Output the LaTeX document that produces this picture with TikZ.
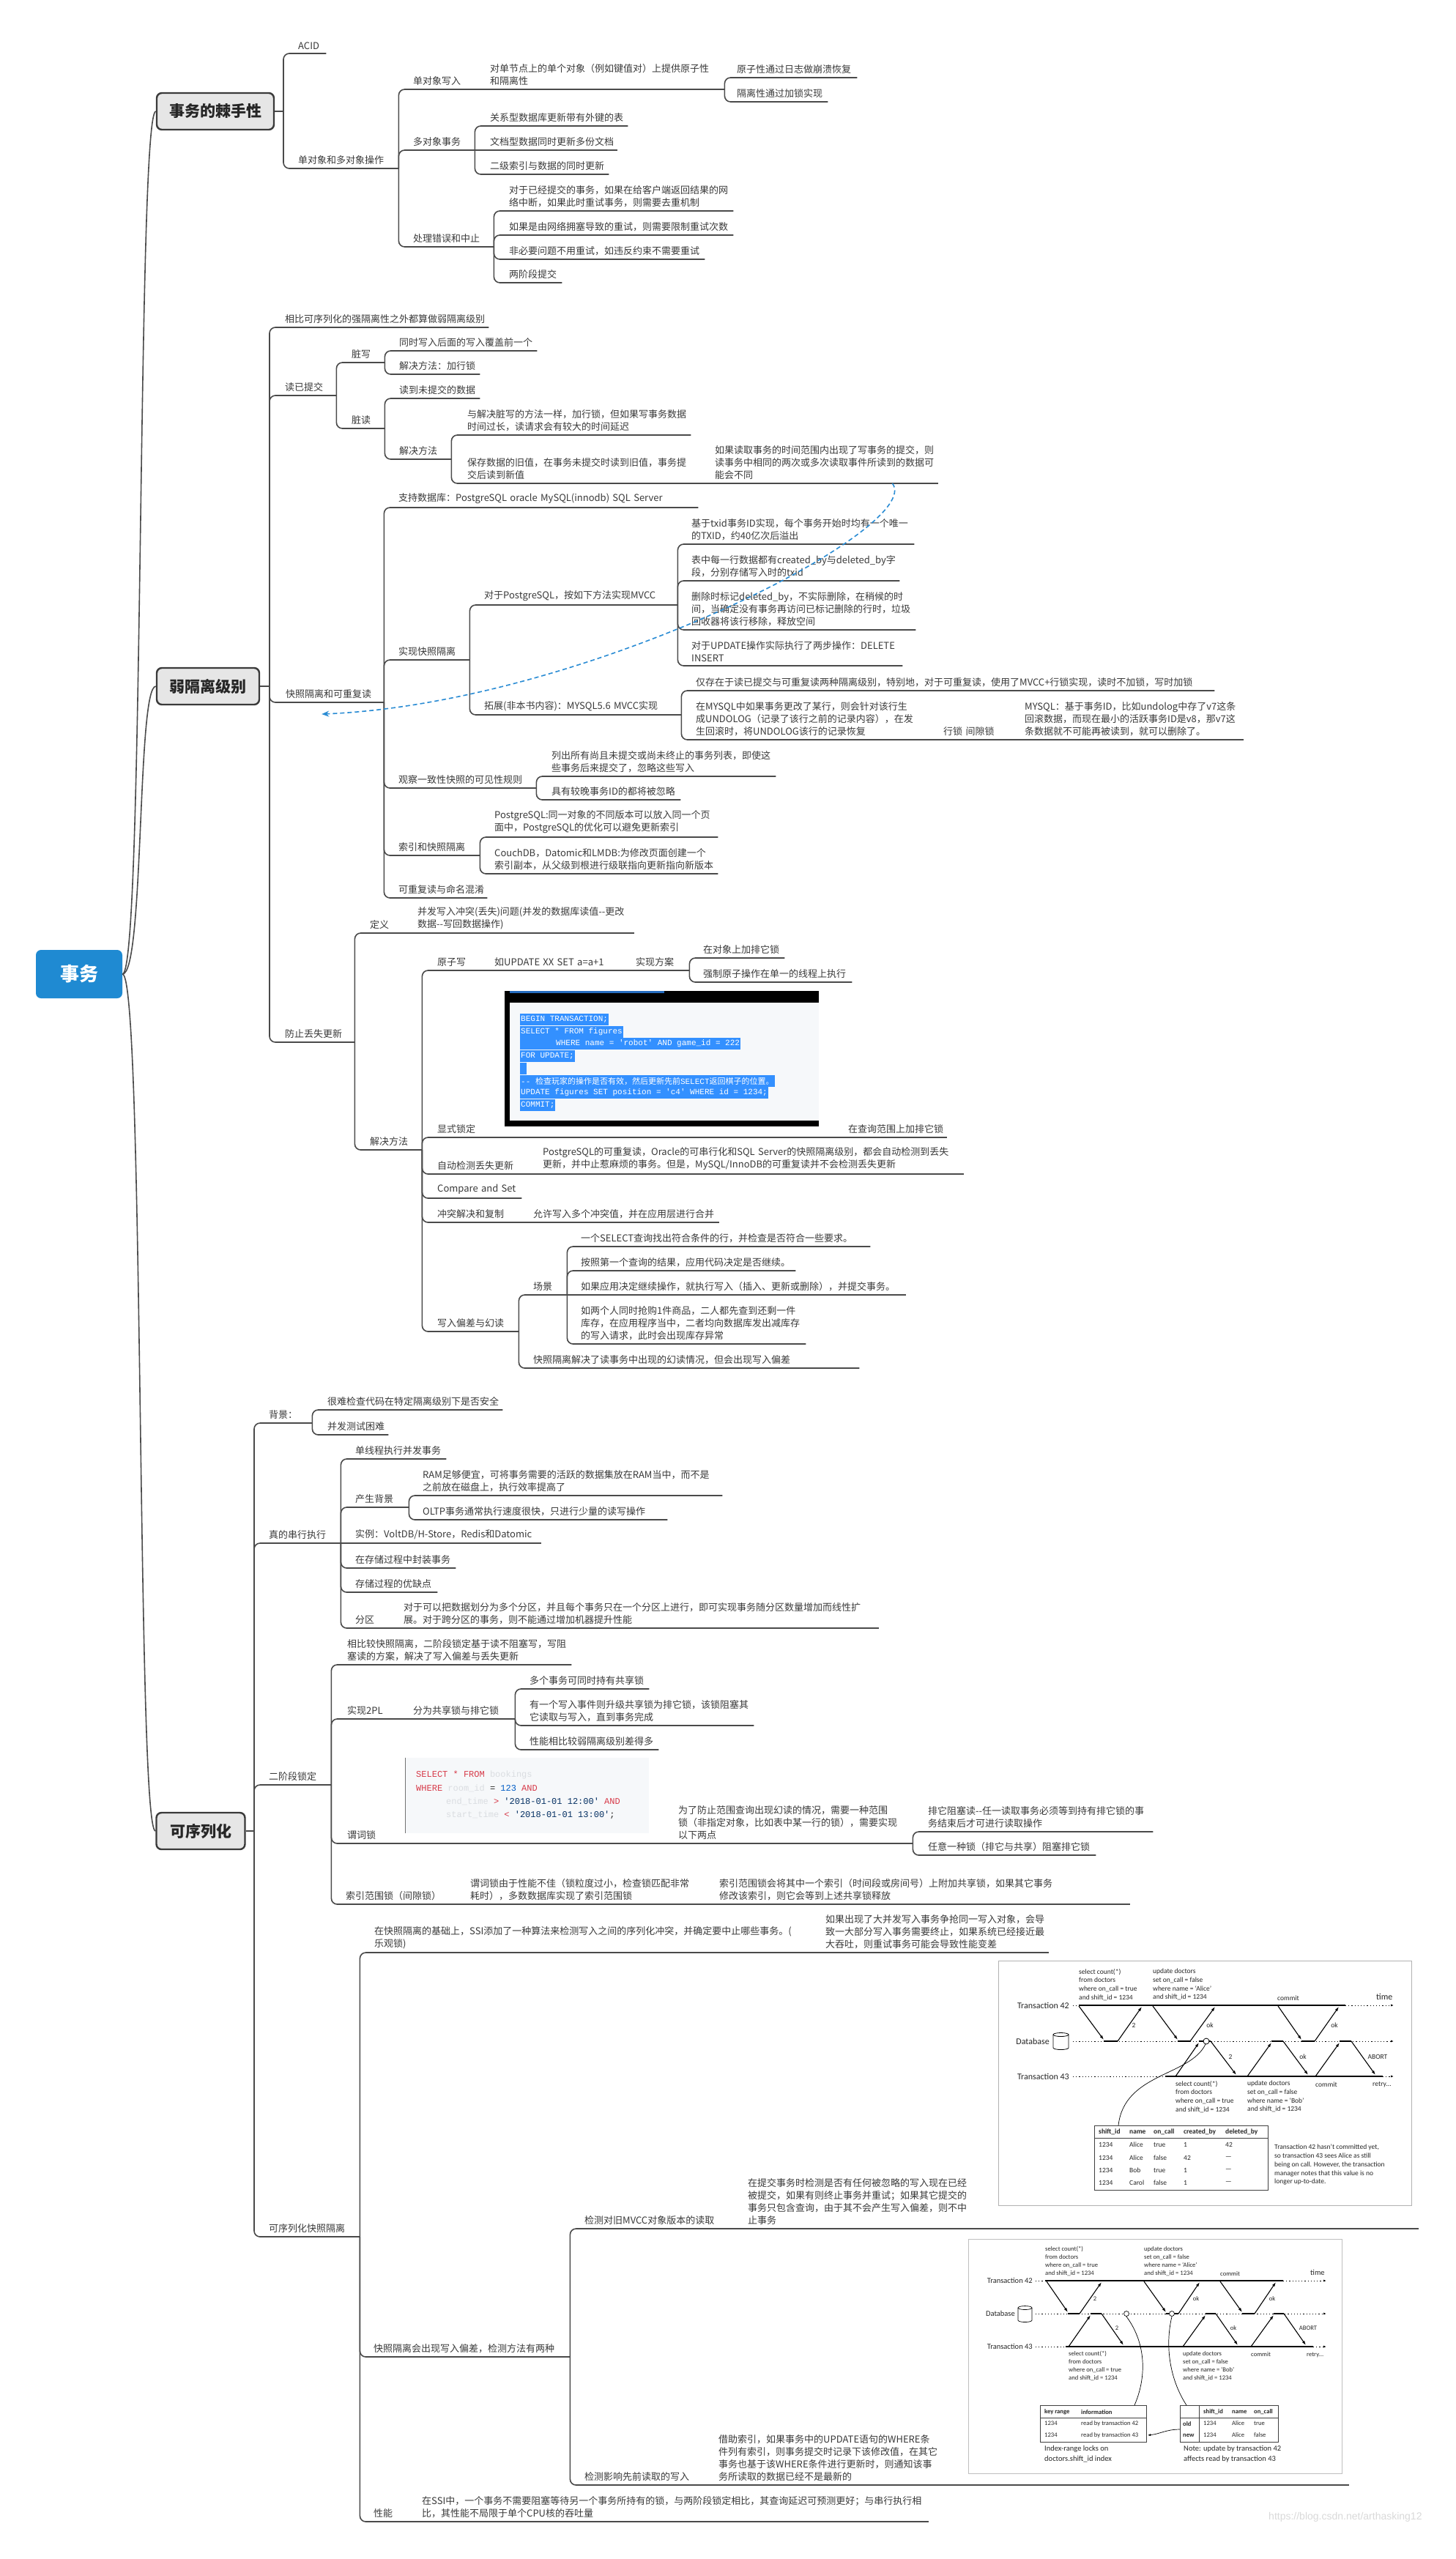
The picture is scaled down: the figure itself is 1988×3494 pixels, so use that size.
\documentclass[tikz,border=0pt]{standalone}
\usepackage{fontspec}
\setmainfont{Noto Sans CJK SC}
\setmonofont{Liberation Mono}
\newfontfamily\cjk{Noto Sans CJK SC}
\newfontfamily\figfont{Carlito}
\newfontfamily\wmfont{Liberation Sans}
\usetikzlibrary{arrows.meta, calc}
\definecolor{linegray}{HTML}{4A4A4A}
\definecolor{txtgray}{HTML}{3A3A3A}
\definecolor{boxfill}{HTML}{E6E6E6}
\definecolor{boxedge}{HTML}{3A3A3A}
\definecolor{rootblue}{HTML}{1F8AD2}
\definecolor{relblue}{HTML}{2A8CD4}
\definecolor{selblue}{HTML}{3390FF}
\definecolor{codebg}{HTML}{F6F8FA}
\definecolor{sqlred}{HTML}{D73A49}
\definecolor{sqlblue}{HTML}{005CC5}
\definecolor{sqlstr}{HTML}{032F62}
\definecolor{sqlid}{HTML}{DADDE1}
\tikzset{
    topic/.style={anchor=south west, inner xsep=0pt, inner ysep=5pt, align=left, text=txtgray, font=\fontsize{13}{17}\selectfont},
    branch/.style={draw=linegray, line width=1.6pt, rounded corners=8pt},
    maintopic/.style={rectangle, rounded corners=7pt, draw=boxedge, line width=2.4pt, fill=boxfill, minimum height=50pt, font=\bfseries\fontsize{21}{25}\selectfont, text=black!85},
    roottopic/.style={rectangle, rounded corners=7pt, fill=rootblue, minimum width=118pt, minimum height=66pt, font=\bfseries\fontsize{26}{30}\selectfont, text=white},
    rootline/.style={draw=linegray, line width=1.6pt},
    relation/.style={draw=relblue, line width=1.6pt, dash pattern=on 6pt off 4pt, -{Stealth[length=10pt, width=8pt]}},
    codeline/.style={anchor=west, fill=selblue, text=white, inner xsep=1pt, inner ysep=0pt, minimum height=16.7pt, font=\ttfamily\fontsize{11}{13}\selectfont},
    sqlline/.style={anchor=west, inner sep=0pt, text=black!85, font=\ttfamily\fontsize{12}{14}\selectfont},
    figtext/.style={inner sep=0pt, align=left, text=black!85, font=\figfont\fontsize{9.5}{11.7}\selectfont},
    figsmall/.style={inner sep=0pt, align=left, text=black!85, font=\figfont\fontsize{8.6}{11}\selectfont},
    figlabel/.style={inner sep=0pt, text=black!85, font=\figfont\fontsize{12}{14}\selectfont},
    figarrow/.style={line width=1.1pt, -{Latex[length=6pt, width=4pt]}},
    figflat/.style={line width=1.8pt},
    figdot/.style={line width=0.9pt, dash pattern=on 1.2pt off 3pt},
    figtip/.style={-{Latex[length=4pt, width=3pt]}}
}
\begin{document}
\begin{tikzpicture}[x=1pt, y=-1pt]
\fill[white] (0,0) rectangle (1988,3494);
\useasboundingbox (0,0) rectangle (1988,3494);

% root and main topics
\node[roottopic] (root) at (108,1330) {事务};
\node[maintopic, minimum width=160pt] (m1) at (294,152) {事务的棘手性};
\node[maintopic, minimum width=140pt] (m2) at (284,937) {弱隔离级别};
\node[maintopic, minimum width=121pt] (m3) at (274,2500) {可序列化};
\foreach \m in {m1,m2,m3}
    \draw[rootline] (root.east) .. controls +(30,0) and +(-26,0) .. (\m.west);

% ---------------- 事务的棘手性
\coordinate (m1t) at (387,152);
\node[topic, text width=38pt] (acid) at (407,73) {ACID};
\node[topic, text width=137pt] (dxdo) at (407,230) {单对象和多对象操作};
\node[topic, text width=84pt] (dx) at (564,122) {单对象写入};
\node[topic, text width=320pt] (dxtext) at (669,122) {对单节点上的单个对象（例如键值对）上提供原子性\\和隔离性};
\node[topic, text width=164pt] (yz) at (1006,106) {原子性通过日志做崩溃恢复};
\node[topic, text width=124pt] (gl) at (1006,139) {隔离性通过加锁实现};
\node[topic, text width=84pt] (dduix) at (564,205) {多对象事务};
\node[topic, text width=188pt] (gx) at (669,172) {关系型数据库更新带有外键的表};
\node[topic, text width=174pt] (wd) at (669,205) {文档型数据同时更新多份文档};
\node[topic, text width=162pt] (ej) at (669,238) {二级索引与数据的同时更新};
\node[topic, text width=110pt] (cl) at (564,337) {处理错误和中止};
\node[topic, text width=306pt] (c1) at (695,288) {对于已经提交的事务，如果在给客户端返回结果的网\\络中断，如果此时重试事务，则需要去重机制};
\node[topic, text width=306pt] (c2) at (695,321) {如果是由网络拥塞导致的重试，则需要限制重试次数};
\node[topic, text width=267pt] (c3) at (695,354) {非必要问题不用重试，如违反约束不需要重试};
\node[topic, text width=72pt] (c4) at (695,386) {两阶段提交};

\draw[branch] (m1.east) -- (m1t);
\foreach \c in {acid,dxdo} \draw[branch] (m1t) |- (\c.south east);
\foreach \c in {dx,dduix,cl} \draw[branch] (dxdo.south east) |- (\c.south east);
\draw[branch] (dx.south east) -- (dxtext.south east);
\foreach \c in {yz,gl} \draw[branch] (dxtext.south east) |- (\c.south east);
\foreach \c in {gx,ej} \draw[branch] (dduix.south east) |- (\c.south east);
\draw[branch] (dduix.south east) -- (wd.south east);
\foreach \c in {c1,c2,c3,c4} \draw[branch] (cl.south east) |- (\c.south east);

% ---------------- 弱隔离级别
\coordinate (m2t) at (368,937);
\node[topic, text width=278pt] (rb) at (389,447) {相比可序列化的强隔离性之外都算做弱隔离级别};
\node[topic, text width=70pt] (rc) at (389,540) {读已提交};
\node[topic, text width=45pt] (zx) at (480,495) {脏写};
\node[topic, text width=188pt] (zx1) at (545,479) {同时写入后面的写入覆盖前一个};
\node[topic, text width=110pt] (zx2) at (545,511) {解决方法：加行锁};
\node[topic, text width=45pt] (zd) at (480,585) {脏读};
\node[topic, text width=110pt] (zd1) at (545,544) {读到未提交的数据};
\node[topic, text width=71pt] (zd2) at (545,627) {解决方法};
\node[topic, text width=305pt] (zd3) at (638,594) {与解决脏写的方法一样，加行锁，但如果写事务数据\\时间过长，读请求会有较大的时间延迟};
\node[topic, text width=305pt] (zd4) at (638,660) {保存数据的旧值，在事务未提交时读到旧值，事务提\\交后读到新值};
\node[topic, text width=305pt] (rcdiff) at (976,660) {如果读取事务的时间范围内出现了写事务的提交，则\\读事务中相同的两次或多次读取事件所读到的数据可\\能会不同};

\node[topic, text width=134pt] (snap) at (390,959) {快照隔离和可重复读};
\node[topic, text width=409pt] (sdb) at (544,693) {支持数据库：PostgreSQL oracle MySQL(innodb) SQL~Server};
\node[topic, text width=97pt] (ssi) at (544,901) {实现快照隔离};
\node[topic, text width=264pt] (pg) at (661,826) {对于PostgreSQL，按如下方法实现MVCC};
\node[topic, text width=304pt] (pg1) at (944,743) {基于txid事务ID实现，每个事务开始时均有一个唯一\\的TXID，约40亿次后溢出};
\node[topic, text width=284pt] (pg2) at (944,793) {表中每一行数据都有created\_by与deleted\_by字\\段，分别存储写入时的txid};
\node[topic, text width=306pt] (pg3) at (944,860) {删除时标记deleted\_by，不实际删除，在稍候的时\\间，当确定没有事务再访问已标记删除的行时，垃圾\\回收器将该行移除，释放空间};
\node[topic, text width=288pt] (pg4) at (944,909) {对于UPDATE操作实际执行了两步操作：DELETE\\INSERT};
\node[topic, text width=269pt] (my) at (661,976) {拓展(非本书内容)：MYSQL5.6~MVCC实现};
\node[topic, text width=708pt] (my1) at (950,943) {仅存在于读已提交与可重复读两种隔离级别，特别地，对于可重复读，使用了MVCC+行锁实现，读时不加锁，写时加锁};
\node[topic, text width=308pt] (my2) at (950,1010) {在MYSQL中如果事务更改了某行，则会针对该行生\\成UNDOLOG（记录了该行之前的记录内容），在发\\生回滚时，将UNDOLOG该行的记录恢复};
\node[topic, text width=80pt] (my3) at (1288,1010) {行锁~间隙锁};
\node[topic, text width=299pt] (my4) at (1399,1010) {MYSQL：基于事务ID，比如undolog中存了v7这条\\回滚数据，而现在最小的活跃事务ID是v8，那v7这\\条数据就不可能再被读到，就可以删除了。};
\node[topic, text width=188pt] (gc) at (544,1076) {观察一致性快照的可见性规则};
\node[topic, text width=306pt] (gc1) at (753,1060) {列出所有尚且未提交或尚未终止的事务列表，即使这\\些事务后来提交了，忽略这些写入};
\node[topic, text width=176pt] (gc2) at (753,1092) {具有较晚事务ID的都将被忽略};
\node[topic, text width=111pt] (sy) at (544,1168) {索引和快照隔离};
\node[topic, text width=305pt] (sy1) at (675,1143) {PostgreSQL:同一对象的不同版本可以放入同一个页\\面中，PostgreSQL的优化可以避免更新索引};
\node[topic, text width=305pt] (sy2) at (675,1193) {CouchDB，Datomic和LMDB:为修改页面创建一个\\索引副本，从父级到根进行级联指向更新指向新版本};
\node[topic, text width=121pt] (mm) at (544,1226) {可重复读与命名混淆};

\node[topic, text width=95pt] (lu) at (389,1423) {防止丢失更新};
\node[topic, text width=57pt] (lu1) at (505,1274) {定义};
\node[topic, text width=296pt] (lu1a) at (570,1274) {并发写入冲突(丢失)问题(并发的数据库读值-{}-更改\\数据-{}-写回数据操作)};
\node[topic, text width=71pt] (lu2) at (505,1570) {解决方法};
\node[topic, text width=61pt] (aw) at (597,1325) {原子写};
\node[topic, text width=174pt] (aw1) at (675,1325) {如UPDATE XX SET a=a+1};
\node[topic, text width=73pt] (aw2) at (868,1325) {实现方案};
\node[topic, text width=111pt] (aw3) at (960,1308) {在对象上加排它锁};
\node[topic, text width=203pt] (aw4) at (960,1341) {强制原子操作在单一的线程上执行};
\node[topic, text width=61pt] (xs) at (597,1553) {显式锁定};
\coordinate (codeend) at (1128,1553);
\node[topic, text width=135pt] (xs1) at (1158,1553) {在查询范围上加排它锁};
\node[topic, text width=112pt] (ad) at (597,1603) {自动检测丢失更新};
\node[topic, text width=575pt] (ad1) at (741,1603) {PostgreSQL的可重复读，Oracle的可串行化和SQL~Server的快照隔离级别，都会自动检测到丢失\\更新，并中止惹麻烦的事务。但是，MySQL/InnoDB的可重复读并不会检测丢失更新};
\node[topic, text width=115pt] (cas) at (597,1636) {Compare and Set};
\node[topic, text width=99pt] (ct) at (597,1669) {冲突解决和复制};
\node[topic, text width=254pt] (ct1) at (728,1669) {允许写入多个冲突值，并在应用层进行合并};
\node[topic, text width=111pt] (ws) at (597,1818) {写入偏差与幻读};
\node[topic, text width=46pt] (cj) at (728,1768) {场景};
\node[topic, text width=395pt] (cj1) at (793,1702) {一个SELECT查询找出符合条件的行，并检查是否符合一些要求。};
\node[topic, text width=293pt] (cj2) at (793,1735) {按照第一个查询的结果，应用代码决定是否继续。};
\node[topic, text width=444pt] (cj3) at (793,1768) {如果应用决定继续操作，就执行写入（插入、更新或删除），并提交事务。};
\node[topic, text width=307pt] (cj4) at (793,1835) {如两个人同时抢购1件商品，二人都先查到还剩一件\\库存，在应用程序当中，二者均向数据库发出减库存\\的写入请求，此时会出现库存异常};
\node[topic, text width=445pt] (ws2) at (728,1868) {快照隔离解决了读事务中出现的幻读情况，但会出现写入偏差};

\draw[branch] (m2.east) -- (m2t);
\foreach \c in {rb,rc,snap,lu} \draw[branch] (m2t) |- (\c.south east);
\foreach \c in {zx,zd} \draw[branch] (rc.south east) |- (\c.south east);
\foreach \c in {zx1,zx2} \draw[branch] (zx.south east) |- (\c.south east);
\foreach \c in {zd1,zd2} \draw[branch] (zd.south east) |- (\c.south east);
\foreach \c in {zd3,zd4} \draw[branch] (zd2.south east) |- (\c.south east);
\draw[branch] (zd4.south east) -- (rcdiff.south east);
\foreach \c in {sdb,ssi,gc,sy,mm} \draw[branch] (snap.south east) |- (\c.south east);
\foreach \c in {pg,my} \draw[branch] (ssi.south east) |- (\c.south east);
\foreach \c in {pg1,pg2,pg3,pg4} \draw[branch] (pg.south east) |- (\c.south east);
\foreach \c in {my1,my2} \draw[branch] (my.south east) |- (\c.south east);
\draw[branch] (my2.south east) -- (my3.south east) -- (my4.south east);
\foreach \c in {gc1,gc2} \draw[branch] (gc.south east) |- (\c.south east);
\foreach \c in {sy1,sy2} \draw[branch] (sy.south east) |- (\c.south east);
\foreach \c in {lu1,lu2} \draw[branch] (lu.south east) |- (\c.south east);
\draw[branch] (lu1.south east) -- (lu1a.south east);
\foreach \c in {aw,xs,ad,cas,ct,ws} \draw[branch] (lu2.south east) |- (\c.south east);
\draw[branch] (aw.south east) -- (aw1.south east) -- (aw2.south east);
\foreach \c in {aw3,aw4} \draw[branch] (aw2.south east) |- (\c.south east);
\draw[branch] (xs.south east) -- (codeend) -- (xs1.south east);
\draw[branch] (ad.south east) -- (ad1.south east);
\draw[branch] (ct.south east) -- (ct1.south east);
\foreach \c in {cj,ws2} \draw[branch] (ws.south east) |- (\c.south east);
\foreach \c in {cj1,cj2,cj4} \draw[branch] (cj.south east) |- (\c.south east);
\draw[branch] (cj.south east) -- (cj3.south east);

% relation line
\draw[relation] ([xshift=-63pt]rcdiff.south east) .. controls (1265,720) and (800,960) .. ([xshift=-18pt, yshift=-16pt]snap.south);

% code screenshot
\fill[black] (689,1353) rectangle (1118,1538);
\fill[codebg] (696,1369) rectangle (1118,1530);
\fill[selblue!75!black] (696,1353) rectangle (907,1356);
\foreach \i/\yy/\t in {1/1392/{BEGIN TRANSACTION;}, 2/1409/{SELECT * FROM figures}, 3/1425/{\hspace*{48pt}WHERE name = 'robot' AND game\_id = 222}, 4/1442/{FOR UPDATE;}, 5/1459/{\phantom{x}}, 6/1476/{-- {\cjk 检查玩家的操作是否有效，然后更新先前}SELECT{\cjk 返回棋子的位置。}}, 7/1492/{UPDATE figures SET position = 'c4' WHERE id = 1234;}, 8/1509/{COMMIT;}}
    \node[codeline] (code\i) at (710,\yy) {\t};

% ---------------- 可序列化
\coordinate (m3t) at (347,2500);
\node[topic, text width=59pt] (bj) at (367,1943) {背景：};
\node[topic, text width=239pt] (bj1) at (447,1925) {很难检查代码在特定隔离级别下是否安全};
\node[topic, text width=83pt] (bj2) at (447,1959) {并发测试困难};
\node[topic, text width=98pt] (cx) at (367,2107) {真的串行执行};
\node[topic, text width=124pt] (cx1) at (485,1992) {单线程执行并发事务};
\node[topic, text width=73pt] (cx2) at (485,2058) {产生背景};
\node[topic, text width=409pt] (cx2a) at (577,2042) {RAM足够便宜，可将事务需要的活跃的数据集放在RAM当中，而不是\\之前放在磁盘上，执行效率提高了};
\node[topic, text width=334pt] (cx2b) at (577,2075) {OLTP事务通常执行速度很快，只进行少量的读写操作};
\node[topic, text width=254pt] (cx3) at (485,2107) {实例：VoltDB/H-Store，Redis和Datomic};
\node[topic, text width=137pt] (cx4) at (485,2141) {在存储过程中封装事务};
\node[topic, text width=112pt] (cx5) at (485,2174) {存储过程的优缺点};
\node[topic, text width=57pt] (cx6) at (485,2223) {分区};
\node[topic, text width=649pt] (cx6a) at (551,2223) {对于可以把数据划分为多个分区，并且每个事务只在一个分区上进行，即可实现事务随分区数量增加而线性扩\\展。对于跨分区的事务，则不能通过增加机器提升性能};
\node[topic, text width=85pt] (ej2) at (367,2437) {二阶段锁定};
\node[topic, text width=306pt] (ej2a) at (474,2273) {相比较快照隔离，二阶段锁定基于读不阻塞写，写阻\\塞读的方案，解决了写入偏差与丢失更新};
\node[topic, text width=70pt] (pl) at (474,2347) {实现2PL};
\node[topic, text width=139pt] (pl1) at (564,2347) {分为共享锁与排它锁};
\node[topic, text width=163pt] (pl1a) at (723,2306) {多个事务可同时持有共享锁};
\node[topic, text width=306pt] (pl1b) at (723,2356) {有一个写入事件则升级共享锁为排它锁，该锁阻塞其\\它读取与写入，直到事务完成};
\node[topic, text width=176pt] (pl1c) at (723,2389) {性能相比较弱隔离级别差得多};
\node[topic, text width=73pt] (wc) at (474,2517) {谓词锁};
\coordinate (sqlend) at (891,2517);
\node[topic, text width=320pt] (wc1) at (926,2517) {为了防止范围查询出现幻读的情况，需要一种范围\\锁（非指定对象，比如表中某一行的锁），需要实现\\以下两点};
\node[topic, text width=307pt] (wc2) at (1267,2501) {排它阻塞读-{}-任一读取事务必须等到持有排它锁的事\\务结束后才可进行读取操作};
\node[topic, text width=229pt] (wc3) at (1267,2533) {任意一种锁（排它与共享）阻塞排它锁};
\node[topic, text width=133pt] (sf) at (472,2600) {索引范围锁（间隙锁）};
\node[topic, text width=321pt] (sf1) at (642,2600) {谓词锁由于性能不佳（锁粒度过小，检查锁匹配非常\\耗时），多数数据库实现了索引范围锁};
\node[topic, text width=561pt] (sf2) at (982,2600) {索引范围锁会将其中一个索引（时间段或房间号）上附加共享锁，如果其它事务\\修改该索引，则它会等到上述共享锁释放};
\node[topic, text width=124pt] (kx) at (367,3054) {可序列化快照隔离};
\node[topic, text width=596pt] (ssi1) at (511,2666) {在快照隔离的基础上，SSI添加了一种算法来检测写入之间的序列化冲突，并确定要中止哪些事务。(\\乐观锁)};
\node[topic, text width=305pt] (ssi2) at (1127,2666) {如果出现了大并发写入事务争抢同一写入对象，会导\\致一大部分写入事务需要终止，如果系统已经接近最\\大吞吐，则重试事务可能会导致性能变差};
\node[topic, text width=268pt] (kx2) at (510,3218) {快照隔离会出现写入偏差，检测方法有两种};
\node[topic, text width=203pt] (jc1) at (798,3043) {检测对旧MVCC对象版本的读取};
\node[topic, text width=319pt] (jc1a) at (1021,3043) {在提交事务时检测是否有任何被忽略的写入现在已经\\被提交，如果有则终止事务并重试；如果其它提交的\\事务只包含查询，由于其不会产生写入偏差，则不中\\止事务};
\coordinate (img1end) at (1937,3043);
\node[topic, text width=163pt] (jc2) at (798,3393) {检测影响先前读取的写入};
\node[topic, text width=322pt] (jc2a) at (981,3393) {借助索引，如果事务中的UPDATE语句的WHERE条\\件列有索引，则事务提交时记录下该修改值，在其它\\事务也基于该WHERE条件进行更新时，则通知该事\\务所读取的数据已经不是最新的};
\coordinate (img2end) at (1842,3393);
\node[topic, text width=52pt] (xn) at (510,3443) {性能};
\node[topic, text width=692pt] (xn1) at (576,3443) {在SSI中，一个事务不需要阻塞等待另一个事务所持有的锁，与两阶段锁定相比，其查询延迟可预测更好；与串行执行相\\比，其性能不局限于单个CPU核的吞吐量};

\draw[branch] (m3.east) -- (m3t);
\foreach \c in {bj,cx,ej2,kx} \draw[branch] (m3t) |- (\c.south east);
\foreach \c in {bj1,bj2} \draw[branch] (bj.south east) |- (\c.south east);
\foreach \c in {cx1,cx2,cx4,cx5,cx6} \draw[branch] (cx.south east) |- (\c.south east);
\draw[branch] (cx.south east) -- (cx3.south east);
\foreach \c in {cx2a,cx2b} \draw[branch] (cx2.south east) |- (\c.south east);
\draw[branch] (cx6.south east) -- (cx6a.south east);
\foreach \c in {ej2a,pl,wc,sf} \draw[branch] (ej2.south east) |- (\c.south east);
\draw[branch] (pl.south east) -- (pl1.south east);
\foreach \c in {pl1a,pl1b,pl1c} \draw[branch] (pl1.south east) |- (\c.south east);
\draw[branch] (wc.south east) -- (sqlend) -- (wc1.south east);
\foreach \c in {wc2,wc3} \draw[branch] (wc1.south east) |- (\c.south east);
\draw[branch] (sf.south east) -- (sf1.south east) -- (sf2.south east);
\foreach \c in {ssi1,kx2,xn} \draw[branch] (kx.south east) |- (\c.south east);
\draw[branch] (ssi1.south east) -- (ssi2.south east);
\foreach \c in {jc1,jc2} \draw[branch] (kx2.south east) |- (\c.south east);
\draw[branch] (jc1.south east) -- (jc1a.south east) -- (img1end);
\draw[branch] (jc2.south east) -- (jc2a.south east) -- (img2end);
\draw[branch] (xn.south east) -- (xn1.south east);

% sql snippet
\fill[codebg] (553,2400) rectangle (886,2503);
\draw[black!55, line width=0.8pt] (553,2400) -- (553,2503);
\node[sqlline] (sql1) at (568,2423) {{\color{sqlred}SELECT * FROM} {\color{sqlid}bookings}};
\node[sqlline] (sql2) at (568,2442) {{\color{sqlred}WHERE} {\color{sqlid}room\_id} = {\color{sqlblue}123} {\color{sqlred}AND}};
\node[sqlline] (sql3) at (609,2460) {{\color{sqlid}end\_time} {\color{sqlred}>} {\color{sqlstr}'2018-01-01 12:00'} {\color{sqlred}AND}};
\node[sqlline] (sql4) at (609,2478) {{\color{sqlid}start\_time} {\color{sqlred}<} {\color{sqlstr}'2018-01-01 13:00'};};

% figure: write skew detected (stale MVCC read)
\draw[black!30, line width=1pt] (1363,2677) rectangle (1927,3011);
\node[figlabel, anchor=east] (fa42) at (1460,2738) {Transaction 42};
\node[figlabel, anchor=east] (fadb) at (1433,2787) {Database};
\node[figlabel, anchor=east] (fa43) at (1460,2835) {Transaction 43};
\node[figlabel, anchor=west] (fatime) at (1879,2726) {time};
\draw[line width=0.8pt] (1438,2778) -- (1438,2796) arc[start angle=180, end angle=0, x radius=10.5, y radius=2.5] -- (1459,2778);
\draw[line width=0.8pt] (1448.5,2778) ellipse[x radius=10.5, y radius=2.5];
\draw[figdot] (1465,2738) -- (1473,2738);
\draw[line width=1.3pt] (1473,2738) -- (1837,2738);
\draw[figdot, figtip] (1837,2738) -- (1903,2738);
\draw[figdot, figtip] (1465,2787) -- (1903,2787);
\draw[figdot] (1465,2835) -- (1591,2835);
\draw[line width=1.3pt] (1591,2835) -- (1888,2835);
\draw[figdot, figtip] (1888,2835) -- (1903,2835);
\foreach \a/\b/\c/\d in {1473/1507/1526/1559, 1574/1608/1625/1659, 1745/1777/1795/1828}{
    \draw[figarrow] (\a,2739) -- (\b,2785);
    \draw[figflat] (\b,2787) -- (\c,2787);
    \draw[figarrow] (\c,2787) -- (\d,2740);
}
\foreach \a/\b/\c/\d in {1605/1637/1653/1688, 1703/1736/1752/1786, 1796/1829/1845/1878}{
    \draw[figarrow] (\a,2835) -- (\b,2789);
    \draw[figflat] (\b,2787) -- (\c,2787);
    \draw[figarrow] (\c,2787) -- (\d,2833);
}
\draw[line width=0.8pt, fill=white] (1647,2787) circle (4);
\draw[line width=0.7pt] (1646,2791) .. controls (1625,2835) and (1535,2830) .. (1527,2902);
\node[figtext, anchor=north west] (faq1) at (1473,2688) {select count(*)\\from doctors\\where on\_call = true\\and shift\_id = 1234};
\node[figtext, anchor=north west] (faq2) at (1574,2688) {update doctors\\set on\_call = false\\where name = ‘Alice’\\and shift\_id = 1234};
\node[figtext, anchor=west] (facm1) at (1744,2728) {commit};
\node[figtext] (fal1) at (1548,2765) {2};
\node[figtext] (fal2) at (1652,2765) {ok};
\node[figtext] (fal3) at (1822,2765) {ok};
\node[figtext] (fal4) at (1680,2808) {2};
\node[figtext] (fal5) at (1779,2808) {ok};
\node[figtext] (fal6) at (1881,2808) {ABORT};
\node[figtext, anchor=north west] (faq3) at (1605,2841) {select count(*)\\from doctors\\where on\_call = true\\and shift\_id = 1234};
\node[figtext, anchor=north west] (faq4) at (1703,2841) {update doctors\\set on\_call = false\\where name = ‘Bob’\\and shift\_id = 1234};
\node[figtext, anchor=west] (facm2) at (1796,2846) {commit};
\node[figtext, anchor=west] (faretry) at (1874,2846) {retry…};
\draw[black!75, line width=0.8pt] (1494,2902) rectangle (1731,2990);
\draw[black!75, line width=0.8pt] (1494,2919) -- (1731,2919);
\foreach \xx/\h in {1500/shift\_id, 1542/name, 1575/on\_call, 1616/created\_by, 1673/deleted\_by}
    \node[figtext, anchor=west, font=\figfont\bfseries\fontsize{9.5}{11.7}\selectfont] (fah\xx) at (\xx,2911) {\h};
\foreach \yy/\n/\oc/\cb/\db in {2928/Alice/true/1/42, 2946/Alice/false/42/—, 2963/Bob/true/1/—, 2980/Carol/false/1/—}{
    \node[figtext, anchor=west] (far\yy a) at (1500,\yy) {1234};
    \node[figtext, anchor=west] (far\yy b) at (1542,\yy) {\n};
    \node[figtext, anchor=west] (far\yy c) at (1575,\yy) {\oc};
    \node[figtext, anchor=west] (far\yy d) at (1616,\yy) {\cb};
    \node[figtext, anchor=west] (far\yy e) at (1673,\yy) {\db};
}
\node[figtext, anchor=north west] (fanote) at (1740,2928) {Transaction 42 hasn’t committed yet,\\so transaction 43 sees Alice as still\\being on call. However, the transaction\\manager notes that this value is no\\longer up-to-date.};

% figure: write skew detected (index-range locks)
\draw[black!25, line width=1pt] (1322,3057) rectangle (1832,3377);
\node[figlabel, anchor=east, font=\figfont\fontsize{10.5}{12}\selectfont] (fb42) at (1410,3114) {Transaction 42};
\node[figlabel, anchor=east, font=\figfont\fontsize{10.5}{12}\selectfont] (fbdb) at (1386,3159) {Database};
\node[figlabel, anchor=east, font=\figfont\fontsize{10.5}{12}\selectfont] (fb43) at (1410,3204) {Transaction 43};
\node[figlabel, anchor=west, font=\figfont\fontsize{10.5}{12}\selectfont] (fbtime) at (1789,3103) {time};
\draw[line width=0.7pt] (1390,3151) -- (1390,3168) arc[start angle=180, end angle=0, x radius=9.5, y radius=2.5] -- (1409,3151);
\draw[line width=0.7pt] (1399.5,3151) ellipse[x radius=9.5, y radius=2.5];
\draw[figdot] (1414,3114) -- (1427,3114);
\draw[line width=1.2pt] (1427,3114) -- (1752,3114);
\draw[figdot, figtip] (1752,3114) -- (1811,3114);
\draw[figdot, figtip] (1414,3159) -- (1811,3159);
\draw[figdot] (1414,3204) -- (1455,3204);
\draw[line width=1.2pt] (1455,3204) -- (1793,3204);
\draw[figdot, figtip] (1793,3204) -- (1811,3204);
\foreach \a/\b/\c/\d in {1429/1458/1474/1504, 1562/1592/1609/1638, 1666/1696/1713/1742}{
    \draw[figarrow] (\a,3115) -- (\b,3157);
    \draw[figflat] (\b,3159) -- (\c,3159);
    \draw[figarrow] (\c,3159) -- (\d,3116);
}
\foreach \a/\b/\c/\d in {1459/1489/1504/1534, 1615/1646/1660/1690, 1708/1739/1753/1783}{
    \draw[figarrow] (\a,3204) -- (\b,3161);
    \draw[figflat] (\b,3159) -- (\c,3159);
    \draw[figarrow] (\c,3159) -- (\d,3202);
}
\draw[line width=0.7pt, fill=white] (1538,3159) circle (3.5);
\draw[line width=0.7pt, fill=white] (1600,3159) circle (3.5);
\draw[line width=0.7pt] (1538,3163) .. controls (1562,3195) and (1568,3240) .. (1549,3284);
\draw[line width=0.7pt] (1600,3163) .. controls (1590,3205) and (1598,3250) .. (1620,3284);
\node[figsmall, anchor=north west] (fbq1) at (1427,3067) {select count(*)\\from doctors\\where on\_call = true\\and shift\_id = 1234};
\node[figsmall, anchor=north west] (fbq2) at (1562,3067) {update doctors\\set on\_call = false\\where name = ‘Alice’\\and shift\_id = 1234};
\node[figsmall, anchor=west] (fbcm1) at (1666,3105) {commit};
\node[figsmall] (fbl1) at (1495,3139) {2};
\node[figsmall] (fbl2) at (1633,3139) {ok};
\node[figsmall] (fbl3) at (1737,3139) {ok};
\node[figsmall] (fbl4) at (1525,3179) {2};
\node[figsmall] (fbl5) at (1684,3179) {ok};
\node[figsmall] (fbl6) at (1786,3179) {ABORT};
\node[figsmall, anchor=north west] (fbq3) at (1459,3210) {select count(*)\\from doctors\\where on\_call = true\\and shift\_id = 1234};
\node[figsmall, anchor=north west] (fbq4) at (1615,3210) {update doctors\\set on\_call = false\\where name = ‘Bob’\\and shift\_id = 1234};
\node[figsmall, anchor=west] (fbcm2) at (1708,3215) {commit};
\node[figsmall, anchor=west] (fbretry) at (1784,3215) {retry…};
\draw[black!75, line width=0.8pt] (1420,3284) rectangle (1565,3334);
\draw[black!75, line width=0.8pt] (1420,3301) -- (1565,3301);
\node[figsmall, anchor=west, font=\figfont\bfseries\fontsize{8.6}{11}\selectfont] (fbk1) at (1426,3293) {key range};
\node[figsmall, anchor=west, font=\figfont\bfseries\fontsize{8.6}{11}\selectfont] (fbk2) at (1476,3293) {information};
\node[figsmall, anchor=west] (fbk3) at (1426,3309) {1234};
\node[figsmall, anchor=west] (fbk4) at (1476,3309) {read by transaction 42};
\node[figsmall, anchor=west] (fbk5) at (1426,3325) {1234};
\node[figsmall, anchor=west] (fbk6) at (1476,3325) {read by transaction 43};
\draw[black!75, line width=0.8pt] (1611,3284) rectangle (1745,3334);
\draw[black!75, line width=0.8pt] (1611,3301) -- (1745,3301);
\draw[black!75, line width=0.8pt] (1637,3284) -- (1637,3334);
\foreach \xx/\h in {1643/shift\_id, 1682/name, 1712/on\_call}
    \node[figsmall, anchor=west, font=\figfont\bfseries\fontsize{8.6}{11}\selectfont] (fbh\xx) at (\xx,3293) {\h};
\foreach \yy/\v/\oc in {3309/old/true, 3325/new/false}{
    \node[figsmall, anchor=west, font=\figfont\bfseries\fontsize{8.6}{11}\selectfont] (fbr\yy a) at (1615,\yy) {\v};
    \node[figsmall, anchor=west] (fbr\yy b) at (1643,\yy) {1234};
    \node[figsmall, anchor=west] (fbr\yy c) at (1682,\yy) {Alice};
    \node[figsmall, anchor=west] (fbr\yy d) at (1712,\yy) {\oc};
}
\draw[line width=0.7pt, -{Latex[length=4pt, width=3pt]}] (1611,3317) .. controls (1592,3317) and (1585,3323) .. (1567,3325);
\node[figtext, anchor=north west, font=\figfont\fontsize{10.5}{14}\selectfont] (fbcap1) at (1426,3339) {Index-range locks on\\doctors.shift\_id index};
\node[figtext, anchor=north west, font=\figfont\fontsize{10.5}{14}\selectfont] (fbcap2) at (1616,3339) {Note: update by transaction 42\\affects read by transaction 43};

\node[anchor=west, inner sep=0pt, text=black!15, font=\wmfont\fontsize{14}{16}\selectfont] (wm) at (1732,3437) {https://blog.csdn.net/arthasking12};
\end{tikzpicture}
\end{document}
